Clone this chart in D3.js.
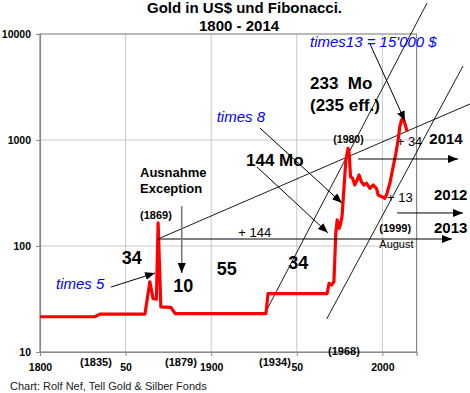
<!DOCTYPE html>
<html>
<head>
<meta charset="utf-8">
<script src="https://cdn.jsdelivr.net/npm/d3@7/dist/d3.min.js"></script>
<style>
  body { margin: 0; background: #fff; }
  svg { font-family: "Liberation Sans", Arial, sans-serif; }
  text { white-space: pre; }
</style>
</head>
<body>
<div id="chart"></div>
<script>
// gold price, US$ per ounce
const years = [1800, 1832, 1835, 1861.3, 1864.2, 1866, 1868, 1869, 1870.6, 1876.5, 1879, 1932, 1933.2,
  1967.7, 1968.9, 1970.3, 1971.7, 1972.2, 1972.8, 1973.6, 1974.8, 1975.7, 1976.5, 1977.1, 1977.9, 1978.7,
  1980.0, 1980.6, 1981.4, 1982.6, 1983.9, 1985.3, 1986.4, 1987.8, 1989.2, 1990.7, 1992.7, 1994.6, 1996.6,
  1997.5, 1999.5, 2001.4, 2002.4, 2004.4, 2006.3, 2007.9, 2009.2, 2010.2, 2011.2, 2012.1, 2013.1, 2014.5];
const prices = [21.5, 21.5, 22.8, 22.8, 46, 32, 31.5, 165, 26.6, 26.4, 23, 23, 35.5,
  35.5, 44.5, 42.8, 46, 74, 132, 176, 147, 164, 196, 271, 420, 648,
  835, 750, 451, 435, 376, 420, 468, 404, 376, 391, 350, 376, 350,
  303, 292, 282, 303, 391, 560, 750, 1000, 1334, 1544, 1603, 1439, 1197];

const xTicks = [1800, 1850, 1900, 1950, 2000];
const xTickLabels = ["1800", "50", "1900", "50", "2000"];
const yTicks = [10, 100, 1000, 10000];
const yTickLabels = ["10", "100", "1000", "10000"];

// trend / channel lines [year, price] -> [year, price]
const trendLines = [
  [[1868.9, 116.4], [2051.2, 2188]],
  [[1931.5, 23.3], [2026.1, 19600]],
  [[1967.5, 20.5], [2047.1, 4990]]
];
// arrows [year, price] -> [year, price]
const arrows = [
  [[1992.8, 8054], [2013.2, 1510]],
  [[1928.5, 1297], [1976.4, 254]],
  [[1926.8, 556], [1968.2, 133]],
  [[1841.5, 41], [1867.2, 55.6]],
  [[1985.8, 662], [2044.2, 662]],
  [[2008.6, 205], [2047.1, 205]],
  [[1868.9, 116.4], [2040.7, 116.4]]
];
const exceptionArrow = [[1882.8, 238], [1882.8, 55.6]];

const width = 470, height = 393;
const mLeft = 40, mRight = 416.6, mTop = 34, mBottom = 352;

const svg = d3.select("#chart").append("svg")
  .attr("width", width).attr("height", height);

const x = d3.scaleLinear().domain([1800, 2020]).range([mLeft, mRight]);
const y = d3.scaleLog().domain([10, 10000]).range([mBottom, mTop]);

// grid
svg.append("g").selectAll("line")
  .data(xTicks.slice(1)).enter().append("line")
  .attr("x1", d => x(d)).attr("x2", d => x(d))
  .attr("y1", mTop).attr("y2", mBottom)
  .attr("stroke", "#c8c8c8");
svg.append("g").selectAll("line")
  .data([100, 1000]).enter().append("line")
  .attr("x1", mLeft).attr("x2", mRight)
  .attr("y1", d => y(d)).attr("y2", d => y(d))
  .attr("stroke", "#c8c8c8");

// frame
svg.append("rect")
  .attr("x", mLeft).attr("y", mTop)
  .attr("width", mRight - mLeft).attr("height", mBottom - mTop)
  .attr("fill", "none").attr("stroke", "#8a8a8a").attr("stroke-width", 1.2);

// axes
const xAxis = svg.append("g")
  .attr("transform", "translate(0," + mBottom + ")")
  .call(d3.axisBottom(x).tickValues(xTicks).tickSize(4).tickPadding(8)
    .tickFormat((d, i) => xTickLabels[i]));
const yAxis = svg.append("g")
  .attr("transform", "translate(" + mLeft + ",0)")
  .call(d3.axisLeft(y).tickValues(yTicks).tickSize(4).tickPadding(5)
    .tickFormat((d, i) => yTickLabels[i]));
[xAxis, yAxis].forEach(a => {
  a.select(".domain").attr("stroke", "#8a8a8a").attr("stroke-width", 1.2);
  a.selectAll(".tick line").attr("stroke", "#8a8a8a");
  a.selectAll(".tick text")
    .attr("font-family", "Liberation Sans, Arial, sans-serif")
    .attr("font-size", 10.5).attr("font-weight", "bold").attr("fill", "#000");
});

// arrow marker
svg.append("defs").append("marker")
  .attr("id", "head")
  .attr("markerUnits", "userSpaceOnUse")
  .attr("markerWidth", 10).attr("markerHeight", 8)
  .attr("refX", 10).attr("refY", 4)
  .attr("orient", "auto")
  .append("path").attr("d", "M0,0L10,4L0,8Z").attr("fill", "#000");

// trend lines
svg.append("g").selectAll("line")
  .data(trendLines).enter().append("line")
  .attr("x1", d => x(d[0][0])).attr("y1", d => y(d[0][1]))
  .attr("x2", d => x(d[1][0])).attr("y2", d => y(d[1][1]))
  .attr("stroke", "#000").attr("stroke-width", 0.9);

// gold line
svg.append("path")
  .datum(years.map((d, i) => [d, prices[i]]))
  .attr("d", d3.line().x(d => x(d[0])).y(d => y(d[1])))
  .attr("fill", "none").attr("stroke", "#ff0000")
  .attr("stroke-width", 3.2).attr("stroke-linejoin", "round");

// arrows
svg.append("g").selectAll("line")
  .data(arrows).enter().append("line")
  .attr("x1", d => x(d[0][0])).attr("y1", d => y(d[0][1]))
  .attr("x2", d => x(d[1][0])).attr("y2", d => y(d[1][1]))
  .attr("stroke", "#000").attr("stroke-width", 1)
  .attr("marker-end", "url(#head)");
svg.append("line")
  .attr("x1", x(exceptionArrow[0][0])).attr("y1", y(exceptionArrow[0][1]))
  .attr("x2", x(exceptionArrow[1][0])).attr("y2", y(exceptionArrow[1][1]))
  .attr("stroke", "#7a7a7a").attr("stroke-width", 1.6)
  .attr("marker-end", "url(#head)");

// texts
const labels = [
  {t: "Gold in US$ und Fibonacci.", x: 147, y: 12.5, s: 15, b: true},
  {t: "1800 - 2014", x: 199, y: 30.7, s: 15, b: true},
  {t: "times13 = 15'000 $", x: 310, y: 46.7, s: 15, i: true, c: "#0000ff"},
  {t: "233  Mo", x: 310, y: 89.3, s: 17, b: true},
  {t: "(235 eff.)", x: 310, y: 110.5, s: 17, b: true},
  {t: "times 8", x: 216.7, y: 121.7, s: 15, i: true, c: "#0000ff"},
  {t: "(1980)", x: 333.3, y: 142.5, s: 10.5, b: true},
  {t: "+ 34", x: 396.7, y: 146, s: 13},
  {t: "2014", x: 429.3, y: 144, s: 15, b: true},
  {t: "144 Mo", x: 246, y: 165.7, s: 17, b: true},
  {t: "Ausnahme", x: 140, y: 177.3, s: 13, b: true},
  {t: "Exception", x: 140, y: 193.3, s: 13, b: true},
  {t: "+ 13", x: 387, y: 201.7, s: 13},
  {t: "2012", x: 434, y: 200, s: 15, b: true},
  {t: "(1869)", x: 140, y: 218.5, s: 11, b: true},
  {t: "(1999)", x: 379.3, y: 232, s: 11, b: true},
  {t: "2013", x: 434, y: 233.3, s: 15, b: true},
  {t: "+ 144", x: 238.3, y: 236.7, s: 13},
  {t: "August", x: 379.3, y: 248, s: 11},
  {t: "34", x: 121.7, y: 264, s: 18, b: true},
  {t: "55", x: 216.7, y: 275, s: 18, b: true},
  {t: "34", x: 288.3, y: 269, s: 18, b: true},
  {t: "times 5", x: 56, y: 289.3, s: 15, i: true, c: "#0000ff"},
  {t: "10", x: 173.3, y: 291.7, s: 18, b: true},
  {t: "(1968)", x: 328, y: 354.5, s: 11, b: true},
  {t: "(1835)", x: 80, y: 365.5, s: 11, b: true},
  {t: "(1879)", x: 165, y: 365.5, s: 11, b: true},
  {t: "(1934)", x: 259, y: 365.5, s: 11, b: true},
  {t: "Chart: Rolf Nef, Tell Gold & Silber Fonds", x: 10, y: 389.5, s: 11, c: "#222"}
];

svg.append("g").selectAll("text")
  .data(labels).enter().append("text")
  .attr("x", d => d.x).attr("y", d => d.y)
  .attr("font-size", d => d.s)
  .attr("font-weight", d => d.b ? "bold" : "normal")
  .attr("font-style", d => d.i ? "italic" : "normal")
  .attr("fill", d => d.c || "#000")
  .text(d => d.t);
</script>
</body>
</html>
